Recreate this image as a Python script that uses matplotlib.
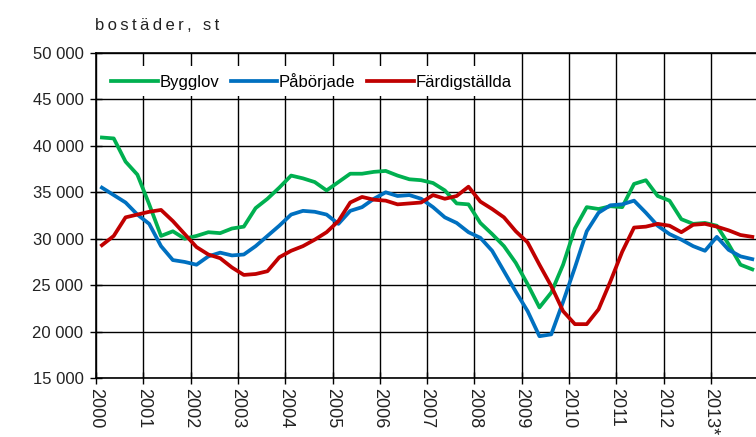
import numpy as np
import matplotlib.pyplot as plt
from matplotlib.ticker import FuncFormatter

# quarterly series 2000Q1 - 2013Q4
bygglov = [40900, 40800, 38300, 36900, 33700, 30300, 30800, 30000,
           30300, 30700, 30600, 31100, 31300, 33300, 34300, 35500,
           36800, 36500, 36100, 35200, 36100, 37000, 37000, 37200,
           37300, 36800, 36400, 36300, 36000, 35200, 33800, 33700,
           31700, 30500, 29200, 27400, 25100, 22600, 24200, 27200,
           31100, 33400, 33200, 33500, 33400, 35900, 36300, 34600,
           34100, 32100, 31600, 31700, 31400, 29400, 27200, 26700]
paborjade = [35500, 34700, 33900, 32600, 31600, 29200, 27700, 27500,
             27200, 28100, 28500, 28200, 28300, 29200, 30300, 31400,
             32600, 33000, 32900, 32600, 31600, 33000, 33400, 34300,
             35000, 34600, 34700, 34300, 33400, 32300, 31700, 30700,
             30100, 28700, 26500, 24300, 22200, 19500, 19700, 23200,
             26900, 30800, 32800, 33600, 33700, 34100, 32800, 31400,
             30500, 29900, 29200, 28700, 30200, 28800, 28100, 27800]
fardigstallda = [29300, 30300, 32300, 32600, 32900, 33100, 31900, 30500,
                 29100, 28300, 27900, 26900, 26100, 26200, 26500, 28000,
                 28700, 29200, 29900, 30700, 31900, 33900, 34500, 34200,
                 34100, 33700, 33800, 33900, 34700, 34300, 34600, 35600,
                 34000, 33200, 32300, 30800, 29600, 27200, 24900, 22200,
                 20800, 20800, 22400, 25400, 28600, 31200, 31300, 31600,
                 31400, 30700, 31500, 31600, 31300, 30900, 30400, 30200]
years = list(range(2000, 2014))
year_labels = [str(y) for y in years[:-1]] + ['2013*']

x = 2000 + (np.arange(len(bygglov)) + 0.5) / 4

plt.rcParams['font.family'] = ['Liberation Sans', 'DejaVu Sans']

fig = plt.figure(figsize=(7.56, 4.37), dpi=100)
ax = fig.add_axes([96/756, 1 - 378/437, 1 - 96/756, (378 - 53)/437])

ax.plot(x, bygglov, color='#00B050', lw=2.7, label='Bygglov', zorder=3)
ax.plot(x, paborjade, color='#0070C0', lw=2.7, label='Påbörjade', zorder=3)
ax.plot(x, fardigstallda, color='#C00000', lw=2.7, label='Färdigställda', zorder=3)

ax.set_xlim(2000, 2000 + (756 - 96) / 47.3)
ax.set_ylim(15000, 50000)
ax.set_yticks(np.arange(15000, 50001, 5000))
ax.yaxis.set_major_formatter(FuncFormatter(lambda v, p: f'{v:,.0f}'.replace(',', ' ')))
ax.set_xticks(years)
ax.set_xticklabels(year_labels, rotation=-90, va='top', ha='center')
ax.grid(True, color='black', lw=1)
ax.set_axisbelow(True)
ax.tick_params(axis='y', labelsize=12, length=8, direction='inout', width=1, pad=5,
               labelcolor='#222222')
ax.tick_params(axis='x', labelsize=13, length=8, direction='inout', width=1, pad=3,
               labelcolor='#222222')
ax.spines['right'].set_visible(False)
for s in ['left', 'bottom', 'top']:
    ax.spines[s].set_linewidth(1.2)

leg = ax.legend(ncol=3, loc='upper left', bbox_to_anchor=(0.0, 0.985),
                handlelength=2.8, handletextpad=0.1,
                columnspacing=0.7, frameon=True, fancybox=False,
                borderpad=0.4, prop={'size': 12})
leg.get_frame().set_facecolor('white')
leg.get_frame().set_edgecolor('none')
leg.get_frame().set_alpha(1)

fig.text(95/756, 1 - 25/437, '\u2009'.join('bostäder, st'), fontsize=12, va='center', ha='left',
         color='#222222')

fig.savefig('out.png', dpi=100)
